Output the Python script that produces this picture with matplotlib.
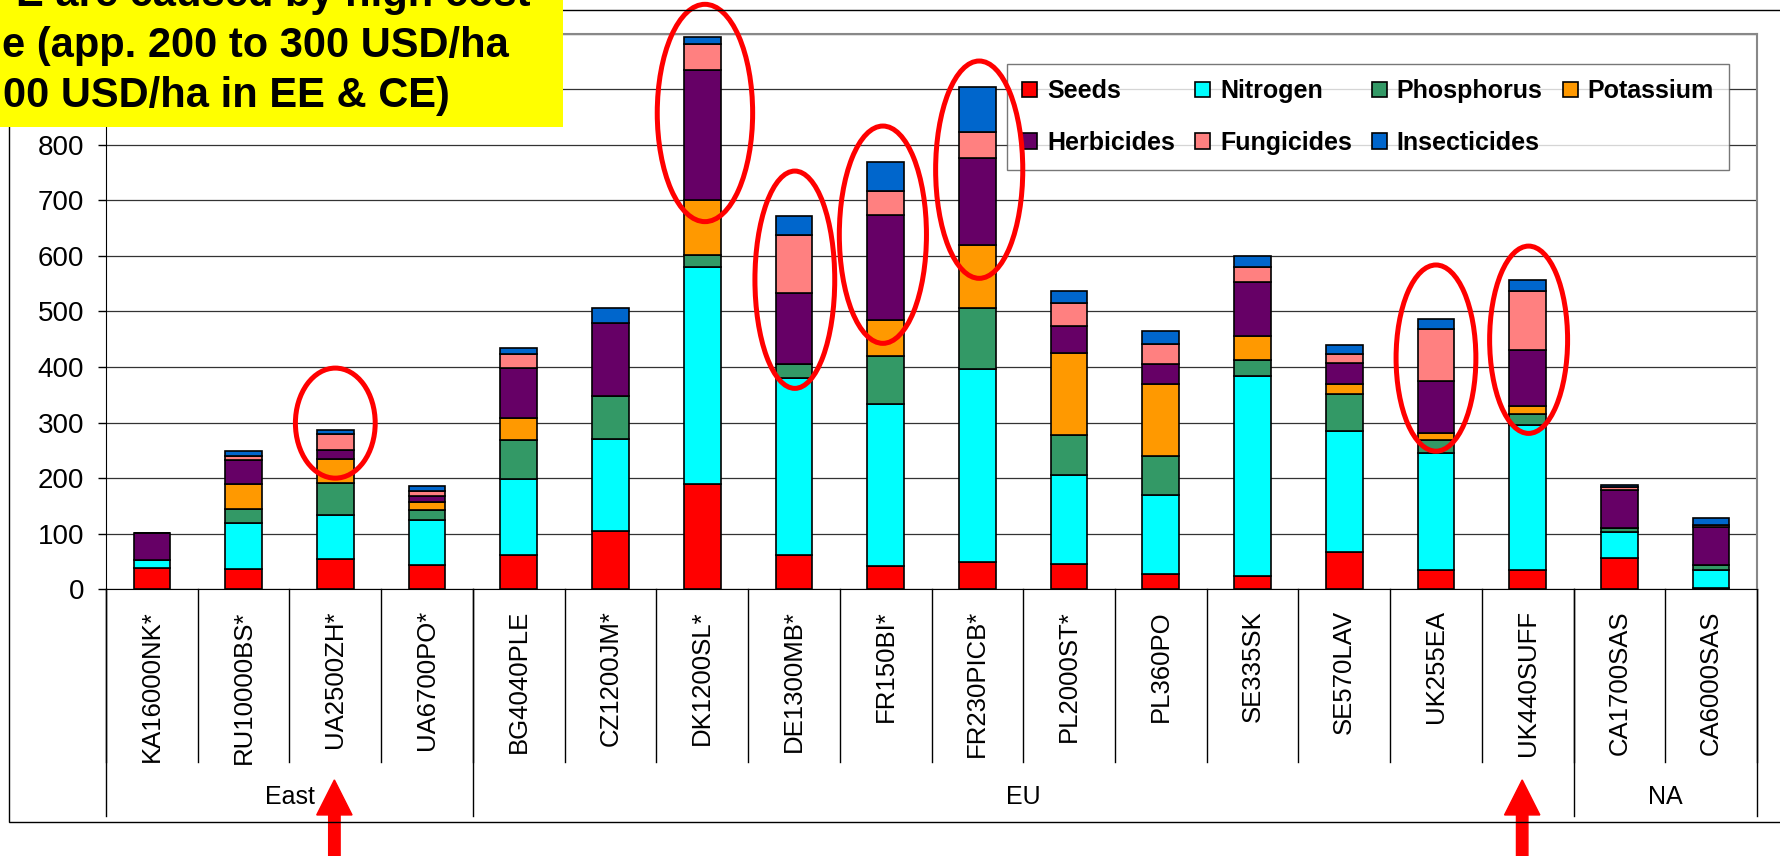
import matplotlib
matplotlib.use('Agg')
import matplotlib.pyplot as plt
import numpy as np
from matplotlib.patches import Ellipse, Rectangle, FancyArrow

plt.rcParams['font.family'] = ['Liberation Sans', 'DejaVu Sans']

farms = ['KA16000NK*', 'RU10000BS*', 'UA2500ZH*', 'UA6700PO*', 'BG4040PLE',
         'CZ1200JM*', 'DK1200SL*', 'DE1300MB*', 'FR150BI*', 'FR230PICB*',
         'PL2000ST*', 'PL360PO', 'SE335SK', 'SE570LAV', 'UK255EA', 'UK440SUFF',
         'CA1700SAS', 'CA6000SAS']
regions = ['East', 'EU', 'NA']
region_sizes = [4, 12, 2]

# USD/ha
seeds = [39, 36, 55, 44, 61, 104, 190, 61, 42, 49, 46, 28, 24, 68, 35, 35, 57, 3]
nitrogen = [14, 84, 79, 80, 138, 167, 390, 320, 291, 348, 160, 141, 359, 217, 210, 261, 46, 31]
phosphorus = [0, 25, 58, 18, 69, 77, 22, 24, 87, 110, 72, 70, 29, 66, 23, 19, 8, 10]
potassium = [0, 44, 43, 15, 40, 0, 98, 0, 64, 112, 148, 130, 44, 19, 14, 14, 0, 0]
herbicides = [49, 44, 16, 11, 91, 131, 234, 128, 190, 157, 48, 37, 96, 37, 92, 102, 68, 68]
fungicides = [0, 6, 29, 8, 24, 0, 47, 105, 43, 46, 42, 36, 28, 17, 94, 105, 5, 3]
insecticides = [0, 9, 7, 10, 12, 28, 12, 33, 51, 81, 21, 23, 20, 16, 19, 21, 3, 14]

series_names = ['Seeds', 'Nitrogen', 'Phosphorus', 'Potassium',
                'Herbicides', 'Fungicides', 'Insecticides']
series_values = [seeds, nitrogen, phosphorus, potassium,
                 herbicides, fungicides, insecticides]
series_colors = ['#FF0000', '#00FFFF', '#339966', '#FF9900',
                 '#660066', '#FF8080', '#0066CC']

y_ticks = list(range(0, 1001, 100))
# 900 and 1000 sit under the yellow note in the original
y_labels = [str(t) if t < 900 else '' for t in y_ticks]

# red rings: (farm index, centre in USD/ha, width in bars, height in USD/ha)
rings = [(2, 299, 0.87, 198), (6.03, 857, 1.04, 391), (7.01, 557, 0.87, 391),
         (7.97, 638, 0.95, 391), (9.02, 755, 0.95, 391),
         (14.0, 416, 0.87, 335), (15.01, 449, 0.85, 337)]
arrow_x = [1.99, 14.94]

note_lines = ['E are caused by high cost',
              'e (app. 200 to 300 USD/ha',
              '00 USD/ha in EE & CE)']

fig = plt.figure(figsize=(17.8, 8.56), dpi=100)
ax = fig.add_axes([106 / 1780, 1 - 589.3 / 856, (1757 - 106) / 1780, (589.3 - 33.5) / 856])

x = np.arange(len(farms))
bottom = np.zeros(len(farms))
bars = []
for name, vals, col in zip(series_names, series_values, series_colors):
    b = ax.bar(x, vals, 0.4, bottom=bottom, color=col, edgecolor='black',
               linewidth=1.2, zorder=3, label=name)
    bars.append(b)
    bottom += np.array(vals)

ax.set_xlim(-0.5, len(farms) - 0.5)
ax.set_ylim(0, 1000)
ax.set_yticks(y_ticks)
ax.set_yticklabels(y_labels)
ax.yaxis.grid(True, color='#333333', linewidth=0.9)
ax.set_axisbelow(True)
ax.tick_params(axis='y', labelsize=20, length=5.8, width=1, pad=10)
ax.set_xticks(x)
ax.set_xticklabels(farms, rotation=90, fontsize=18.5)
ax.tick_params(axis='x', length=0, pad=15)

ax.spines['left'].set_color('black')
ax.spines['bottom'].set_color('black')
ax.spines['top'].set_color('#888888')
ax.spines['right'].set_color('#888888')
ax.spines['top'].set_linewidth(1.5)
ax.spines['right'].set_linewidth(1.5)

# category separators and region groups under the axis
tr = ax.get_xaxis_transform()
for b in np.arange(-0.5, len(farms)):
    ax.plot([b, b], [0, -0.31], color='black', lw=1, transform=tr, clip_on=False)
edges = np.concatenate([[0], np.cumsum(region_sizes)]) - 0.5
for e in edges:
    ax.plot([e, e], [0, -0.408], color='black', lw=1, transform=tr, clip_on=False)
for i, r in enumerate(regions):
    ax.text((edges[i] + edges[i + 1]) / 2, -0.373, r, fontsize=18,
            ha='center', va='center', transform=tr)

# legend filled row by row like the original
order = [0, 4, 1, 5, 2, 6, 3]
leg = ax.legend([bars[i] for i in order], [series_names[i] for i in order],
                ncol=4, loc='upper right', bbox_to_anchor=(0.983, 0.9446),
                borderaxespad=0, prop={'size': 18, 'weight': 'bold'},
                fancybox=False, handlelength=0.6, handleheight=0.6,
                handletextpad=0.4, columnspacing=0.8, labelspacing=1.1,
                borderpad=0.6)
leg.get_frame().set_edgecolor('#555555')
leg.get_frame().set_linewidth(1)

for cx, cy, w, h in rings:
    ax.add_patch(Ellipse((cx, cy), w, h, fill=False, edgecolor='red',
                         lw=3.6, zorder=10, clip_on=False))

for ax_x in arrow_x:
    ax.add_patch(FancyArrow(ax_x, -0.5, 0, 0.157, width=0.125, head_width=0.385,
                            head_length=0.063, length_includes_head=True,
                            color='red', transform=tr, clip_on=False, zorder=10))

# overlay in pixels: chart border and the yellow note
ov = fig.add_axes([0, 0, 1, 1])
ov.set_xlim(0, 1780)
ov.set_ylim(856, 0)
ov.axis('off')
ov.add_patch(Rectangle((8.6, 10), 1800, 812, fill=False, edgecolor='black', lw=1))
ov.add_patch(Rectangle((0, 0), 562.5, 126.7, facecolor='#FFFF00', edgecolor='none'))
for txt, xr, yb in zip(note_lines, [530, 509, 450], [6.4, 56.7, 107]):
    ov.text(xr, yb, txt, fontsize=30, fontweight='bold', ha='right', va='baseline')

fig.savefig('out.png', dpi=100)
